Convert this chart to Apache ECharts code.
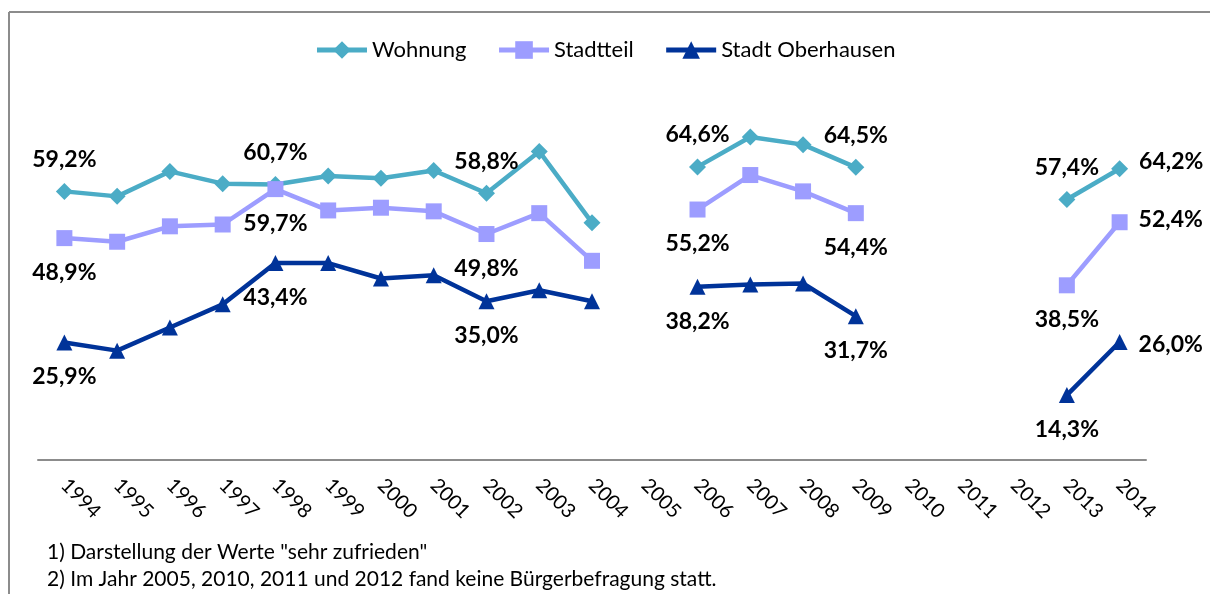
<!DOCTYPE html>
<html>
<head>
<meta charset="utf-8">
<script src="https://cdn.jsdelivr.net/npm/echarts@6/dist/echarts.min.js"></script>
<style>
  html, body { margin: 0; padding: 0; background: #fff; }
  #chart { width: 1210px; height: 594px; }
</style>
</head>
<body>
<div id="chart"></div>
<script>
// data
const years = ['1994', '1995', '1996', '1997', '1998', '1999', '2000', '2001', '2002', '2003', '2004',
  '2005', '2006', '2007', '2008', '2009', '2010', '2011', '2012', '2013', '2014']
const wohnung = [59.2, 58.1, 63.6, 60.9, 60.7, 62.6, 62.1, 63.8, 58.8, 68.0, 52.3,
  null, 64.6, 71.2, 69.5, 64.5, null, null, null, 57.4, 64.2]
const stadtteil = [48.9, 48.1, 51.5, 51.9, 59.7, 55.0, 55.6, 54.8, 49.8, 54.4, 43.9,
  null, 55.2, 62.8, 59.2, 54.4, null, null, null, 38.5, 52.4]
const stadt = [25.9, 24.1, 29.2, 34.3, 43.4, 43.4, 40.0, 40.7, 35.0, 37.4, 35.0,
  null, 38.2, 38.7, 38.9, 31.7, null, null, null, 14.3, 26.0]
const labelYears = ['1994', '1998', '2002', '2006', '2009', '2013', '2014']
const footnotes = [
  '1) Darstellung der Werte "sehr zufrieden"',
  '2) Im Jahr 2005, 2010, 2011 und 2012 fand keine Bürgerbefragung statt.'
]

const FONT = 'Lato'
const fmt = v => v.toFixed(1).replace('.', ',') + '%'

// only some points carry a value label, the last one sits to the right
function withLabels(values, pos, lastOffset) {
  return values.map((v, i) => {
    if (v == null) return null
    const show = labelYears.indexOf(years[i]) >= 0
    const last = i === years.length - 1
    return {
      value: v,
      label: {
        show: show,
        position: last ? 'right' : pos,
        distance: last ? 11 : (pos === 'top' ? 12 : 15),
        offset: last ? [0, lastOffset] : [0, 0]
      }
    }
  })
}

function makeSeries(name, values, color, symbol, size, pos, lastOffset) {
  return {
    name: name,
    type: 'line',
    data: withLabels(values, pos, lastOffset),
    symbol: symbol,
    symbolSize: size,
    showAllSymbol: true,
    connectNulls: false,
    lineStyle: { color: color, width: 4.5 },
    itemStyle: { color: color },
    label: {
      formatter: p => fmt(p.value),
      fontFamily: FONT,
      fontWeight: 'bold',
      fontSize: 23,
      color: '#000'
    },
    emphasis: { disabled: true },
    animation: false
  }
}

const chart = echarts.init(document.getElementById('chart'))
chart.setOption({
  backgroundColor: '#fff',
  legend: {
    top: 34,
    left: 'center',
    itemWidth: 50,
    itemHeight: 22,
    itemGap: 30,
    lineStyle: { width: 5 },
    textStyle: { fontFamily: FONT, fontSize: 22, color: '#000' },
    data: ['Wohnung', 'Stadtteil', 'Stadt Oberhausen']
  },
  grid: { left: 38, right: 64, top: 97, bottom: 134 },
  xAxis: {
    type: 'category',
    data: years,
    boundaryGap: true,
    axisLine: { lineStyle: { color: '#8c8c8c', width: 2 } },
    axisTick: { show: false },
    axisLabel: {
      interval: 0,
      rotate: -45,
      margin: 22,
      fontFamily: FONT,
      fontSize: 20,
      color: '#000'
    }
  },
  yAxis: {
    type: 'value',
    min: 0,
    max: 80,
    show: false,
    splitLine: { show: false }
  },
  graphic: [
    { type: 'line', shape: { x1: 9, y1: 12, x2: 1210, y2: 12 }, style: { stroke: '#8c8c8c', lineWidth: 2 } },
    { type: 'line', shape: { x1: 9, y1: 12, x2: 9, y2: 594 }, style: { stroke: '#8c8c8c', lineWidth: 2 } },
    { type: 'text', x: 47, y: 552, style: { text: footnotes[0], font: '21px ' + FONT, fill: '#000', verticalAlign: 'middle' } },
    { type: 'text', x: 47, y: 579, style: { text: footnotes[1], font: '21px ' + FONT, fill: '#000', verticalAlign: 'middle' } }
  ],
  series: [
    makeSeries('Wohnung', wohnung, '#4BACC6', 'diamond', 17, 'top', -7),
    makeSeries('Stadtteil', stadtteil, '#9D9DFF', 'rect', 16, 'bottom', -3),
    makeSeries('Stadt Oberhausen', stadt, '#003399', 'triangle', 16, 'bottom', 3)
  ]
})
</script>
</body>
</html>
